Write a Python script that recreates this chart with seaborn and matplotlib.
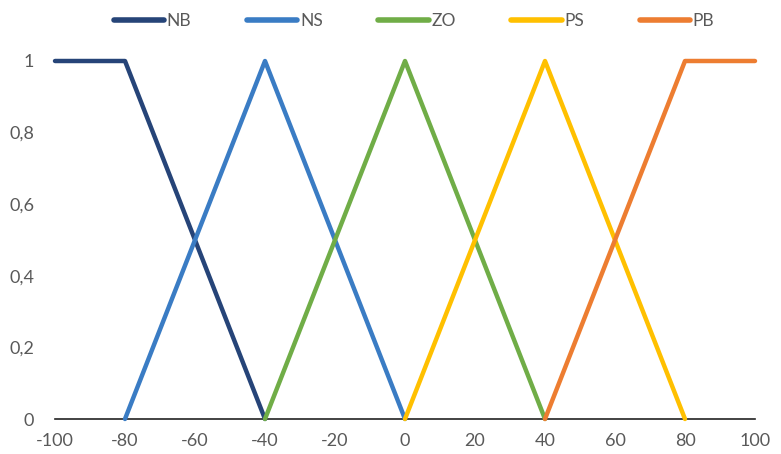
import numpy as np
import pandas as pd
import matplotlib
matplotlib.use('Agg')
import matplotlib.pyplot as plt
import seaborn as sns

# membership functions, break points
sets = ['NB', 'NS', 'ZO', 'PS', 'PB']
x_nb = [-100, -80, -40]
y_nb = [1, 1, 0]
x_ns = [-80, -40, 0]
y_ns = [0, 1, 0]
x_zo = [-40, 0, 40]
y_zo = [0, 1, 0]
x_ps = [0, 40, 80]
y_ps = [0, 1, 0]
x_pb = [40, 80, 100]
y_pb = [0, 1, 1]

colors = ['#264478', '#3a7cc4', '#70ad47', '#ffc000', '#ed7d31']
x_ticks = [-100, -80, -60, -40, -20, 0, 20, 40, 60, 80, 100]
y_ticks = [0, 0.2, 0.4, 0.6, 0.8, 1]
y_tick_labels = ['0', '0,2', '0,4', '0,6', '0,8', '1']

xs = [x_nb, x_ns, x_zo, x_ps, x_pb]
ys = [y_nb, y_ns, y_zo, y_ps, y_pb]
df = pd.concat([pd.DataFrame({'x': x, 'mu': y, 'set': s}) for s, x, y in zip(sets, xs, ys)],
               ignore_index=True)

sns.set_style('white')
plt.rcParams['font.family'] = ['Lato', 'DejaVu Sans']
plt.rcParams['axes.unicode_minus'] = False

fig = plt.figure(figsize=(7.81, 4.54), dpi=100)
ax = fig.add_axes([55 / 781, 1 - 419 / 454, 700 / 781, 358 / 454])

sns.lineplot(data=df, x='x', y='mu', hue='set', hue_order=sets, palette=dict(zip(sets, colors)),
             sort=False, estimator=None, linewidth=3.2, ax=ax)
for line in ax.get_lines():
    line.set_clip_on(False)

ax.set_xlim(-100, 100)
ax.set_ylim(0, 1)
ax.set_xticks(x_ticks)
ax.set_yticks(y_ticks)
ax.set_yticklabels(y_tick_labels)
ax.set_xlabel('')
ax.set_ylabel('')
ax.tick_params(axis='both', length=0, labelsize=13, labelcolor='#595959')
ax.tick_params(axis='x', pad=10)
ax.tick_params(axis='y', pad=15)
for side in ['top', 'right', 'left']:
    ax.spines[side].set_visible(False)
ax.spines['bottom'].set_color('#222222')
ax.spines['bottom'].set_linewidth(1.2)
ax.spines['bottom'].set_zorder(0)

leg = ax.legend(loc='center', bbox_to_anchor=(414 / 781, (454 - 21) / 454), bbox_transform=fig.transFigure,
                ncol=5, frameon=False, fontsize=12.5, handlelength=2.9, handletextpad=0.15,
                columnspacing=3.2)
for t in leg.get_texts():
    t.set_color('#595959')
for h in leg.get_lines():
    h.set_linewidth(4)
    h.set_solid_capstyle('round')

fig.savefig('out.png', dpi=100)
